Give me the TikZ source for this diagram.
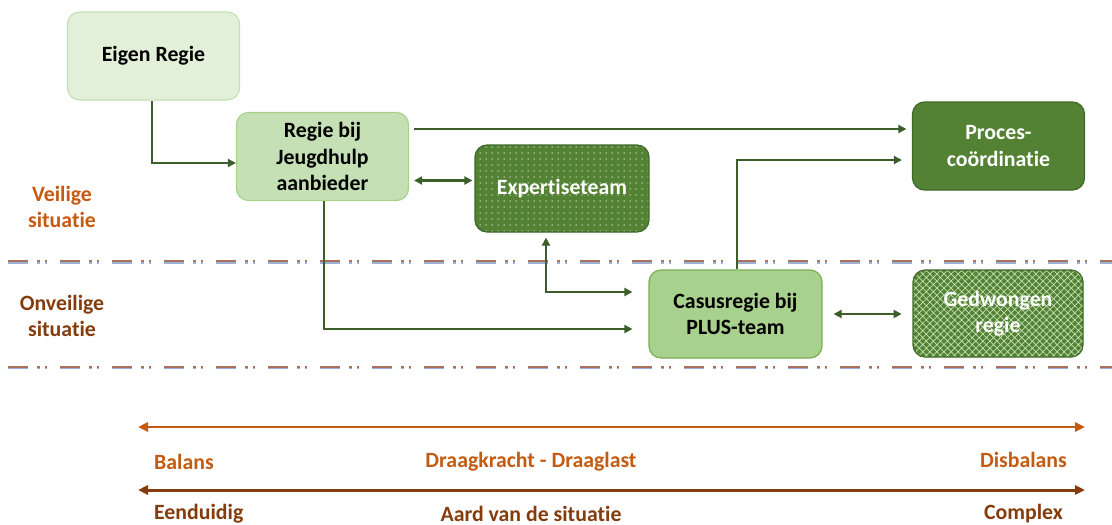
\documentclass[tikz,border=0pt]{standalone}
\usepackage{fontspec}
\setmainfont{Carlito}[Ligatures=NoCommon]
\usetikzlibrary{arrows.meta,patterns.meta}

\definecolor{palegreen}{HTML}{E2F0D9}
\definecolor{softgreen}{HTML}{C5E0B4}
\definecolor{midgreen}{HTML}{A9D18E}
\definecolor{rimgreen}{HTML}{78AE55}
\definecolor{leafgreen}{HTML}{548235}
\definecolor{deepgreen}{HTML}{3D6A27}
\definecolor{linkgreen}{HTML}{3B5E2B}
\definecolor{safeorange}{HTML}{C55A11}
\definecolor{unsafebrown}{HTML}{843C0C}
\definecolor{bandbrown}{HTML}{A8735A}
\definecolor{bandblue}{HTML}{9DB1D8}

\tikzset{
  regie/.style={rounded corners=12pt, minimum width=172pt, minimum height=88pt,
    align=center, line width=1.2pt, inner sep=2pt,
    font=\bfseries\fontsize{21.8}{26.5}\selectfont},
  lighttone/.style={regie, fill=palegreen, draw=softgreen},
  softtone/.style={regie, fill=softgreen, draw=midgreen},
  midtone/.style={regie, fill=midgreen, draw=rimgreen},
  darktone/.style={regie, fill=leafgreen, draw=deepgreen, text=white},
  dottone/.style={regie, draw=deepgreen, text=white, preaction={fill=leafgreen},
    pattern={Dots[distance=6pt,radius=0.75pt]}, pattern color=white!70!leafgreen},
  diamondtone/.style={regie, draw=deepgreen, text=white, preaction={fill=leafgreen},
    pattern={Hatch[distance=5pt,angle=45,line width=0.7pt]}, pattern color=softgreen},
  link/.style={draw=linkgreen, line width=2.3pt},
  zone/.style={font=\bfseries\fontsize{21.8}{26.5}\selectfont, align=center},
  scale label/.style={font=\bfseries\fontsize{21.8}{26.5}\selectfont, inner sep=0pt},
  band/.style={line width=1.6pt, dash pattern=on 20pt off 9pt on 2.5pt off 5pt on 2.5pt off 13pt},
  >={Triangle[length=8pt,width=8pt]}
}

\begin{document}
\begin{tikzpicture}[x=1pt,y=-1pt]
  \useasboundingbox (0,0) rectangle (1112,525);

  \draw[band, bandbrown] (8,261.2) -- (1112,261.2);
  \draw[band, bandblue]  (8,262.8) -- (1112,262.8);
  \draw[band, bandbrown] (8,366.7) -- (1112,366.7);
  \draw[band, bandblue]  (8,368.3) -- (1112,368.3);

  \node[zone, text=safeorange]  (veilig)   at (62,207) {Veilige\\situatie};
  \node[zone, text=unsafebrown] (onveilig) at (62,316) {Onveilige\\situatie};

  \node[lighttone]   (eigen)     at (153.5,56)  {Eigen Regie};
  \node[softtone]    (jeugdhulp) at (322.5,156.5) {Regie bij\\Jeugdhulp\\aanbieder};
  \node[dottone, minimum width=174pt, minimum height=87pt]
                     (expertise) at (562,188.5) {Expertiseteam};
  \node[darktone]    (proces)    at (998.5,146) {Proces-\\coördinatie};
  \node[midtone, minimum width=173pt]
                     (casus)     at (735.5,314) {Casusregie bij\\PLUS-team};
  \node[diamondtone, minimum width=170pt, minimum height=87pt]
                     (gedwongen) at (998,313.5) {Gedwongen\\regie};

  \draw[link, ->] ([xshift=-1.5pt]eigen.south) |- ([yshift=-6.5pt]jeugdhulp.west);
  \draw[link, ->, shorten >=10pt] ([xshift=4.5pt,yshift=27.5pt]jeugdhulp.east)
    -- ([xshift=4.5pt,yshift=27.5pt]jeugdhulp.east -| proces.west);
  \draw[link, <->, shorten <=5pt, shorten >=2pt] ([yshift=-24pt]jeugdhulp.east)
    -- ([yshift=-24pt]jeugdhulp.east -| expertise.west);
  \draw[link, ->, shorten >=16pt] ([xshift=1.5pt]jeugdhulp.south) |- ([yshift=-15pt]casus.west);
  \draw[link, <->, shorten <=5pt, shorten >=16pt] ([xshift=-16pt]expertise.south)
    |- ([yshift=22pt]casus.west);
  \draw[link, ->, shorten >=10pt] ([xshift=1.5pt]casus.north) |- ([yshift=-14pt]proces.west);
  \draw[link, <->, shorten <=11pt, shorten >=11pt] (casus.east) -- (casus.east -| gedwongen.west);

  \coordinate (kracht west) at (138,427);
  \coordinate (kracht east) at (1085,427);
  \coordinate (aard west)   at (138,490);
  \coordinate (aard east)   at (1085,490);
  \draw[safeorange, line width=2.6pt, {Triangle[length=10pt,width=9pt]}-{Triangle[length=10pt,width=9pt]}]
    (kracht west) -- (kracht east);
  \draw[unsafebrown, line width=3pt, {Triangle[length=10pt,width=9pt]}-{Triangle[length=10pt,width=9pt]}]
    (aard west) -- (aard east);

  \node[scale label, text=safeorange, anchor=west]  (balans)    at (154,462) {Balans};
  \node[scale label, text=safeorange]               (draag)     at (531,462) {Draagkracht - Draaglast};
  \node[scale label, text=safeorange, anchor=east]  (disbalans) at (1067,460) {Disbalans};
  \node[scale label, text=unsafebrown, anchor=west] (eenduidig) at (154,514) {Eenduidig};
  \node[scale label, text=unsafebrown]              (aard)      at (531,514) {Aard van de situatie};
  \node[scale label, text=unsafebrown, anchor=east] (complex)   at (1063,514) {Complex};
\end{tikzpicture}
\end{document}
